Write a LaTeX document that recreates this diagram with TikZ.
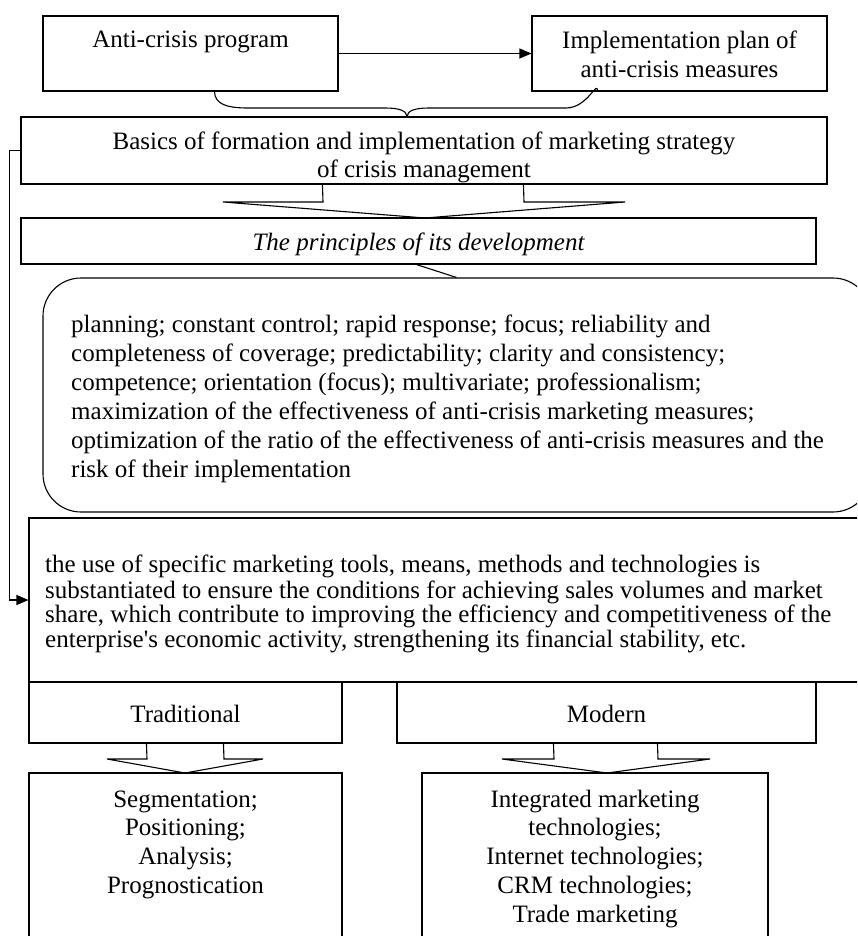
\documentclass[tikz,border=0pt]{standalone}
\usepackage{fontspec}
\setmainfont{Liberation Serif}
\usetikzlibrary{arrows.meta,calc}
\begin{document}
\begin{tikzpicture}[x=1pt,y=-1pt,
  box/.style={draw, line width=1.1pt, rectangle, inner sep=0pt},
  conn/.style={draw, line width=1.1pt},
  tip/.style={-{Triangle[length=12pt,width=10pt]}},
  lbl/.style={inner sep=0pt, font=\fontsize{25}{29}\selectfont}]
\useasboundingbox (0,0) rectangle (857,936);
\fill[white] (0,0) rectangle (857,936);
\clip (0,0) rectangle (857,936);

% boxes
\node[box, minimum width=295pt, minimum height=75pt] (A) at (190.5,53.5) {};
\node[box, minimum width=295pt, minimum height=75pt] (B) at (679.5,53.5) {};
\node[box, minimum width=806pt, minimum height=67pt] (C) at (424,150.5) {};
\node[box, minimum width=795pt, minimum height=46pt] (P) at (418.5,241) {};
\node[box, rounded corners=38pt, minimum width=828pt, minimum height=234pt] (R) at (457,395) {};
\node[box, minimum width=841pt, minimum height=164pt] (D) at (449.5,600) {};
\node[box, minimum width=313pt, minimum height=61pt] (T) at (185.5,712.5) {};
\node[box, minimum width=419pt, minimum height=61pt] (M) at (606.5,712.5) {};
\node[box, minimum width=313pt, minimum height=177pt] (S) at (185.5,861.5) {};
\node[box, minimum width=346pt, minimum height=177pt] (N) at (595,861.5) {};

% texts
\node[lbl, anchor=base] (tA) at (190.5,48) {Anti-crisis program};
\node[lbl, anchor=north, align=center] (tB) at (679.5,27.7)
  {\strut Implementation plan of\\anti-crisis measures};
\node[lbl, anchor=north, align=center, font=\fontsize{25}{28}\selectfont] (tC) at (424,129.7)
  {\strut Basics of formation and implementation of marketing strategy\\of crisis management};
\node[lbl, anchor=base, font=\fontsize{25}{29}\selectfont\itshape] (tP) at (418.5,250)
  {The principles of its development};
\node[lbl, anchor=north west, align=left] (tR) at (71,311.7)
  {\strut planning; constant control; rapid response; focus; reliability and\\
   completeness of coverage; predictability; clarity and consistency;\\
   competence; orientation (focus); multivariate; professionalism;\\
   maximization of the effectiveness of anti-crisis marketing measures;\\
   optimization of the ratio of the effectiveness of anti-crisis measures and the\\
   risk of their implementation};
\node[lbl, anchor=north west, align=left, font=\fontsize{25}{24.3}\selectfont] (tD) at (45,554.9)
  {\strut the use of specific marketing tools, means, methods and technologies is\\
   substantiated to ensure the conditions for achieving sales volumes and market\\
   share, which contribute to improving the efficiency and competitiveness of the\\
   enterprise\textquotesingle s economic activity, strengthening its financial stability, etc.};
\node[lbl, anchor=base] (tT) at (185.5,722) {Traditional};
\node[lbl, anchor=base] (tM) at (606.5,722) {Modern};
\node[lbl, anchor=north, align=center, font=\fontsize{25}{28.7}\selectfont] (tS) at (185.5,786.9)
  {\strut Segmentation;\\Positioning;\\Analysis;\\Prognostication};
\node[lbl, anchor=north, align=center, font=\fontsize{25}{28.7}\selectfont] (tN) at (595,786.9)
  {\strut Integrated marketing\\technologies;\\Internet technologies;\\CRM technologies;\\Trade marketing};

% connectors
\draw[conn, tip] (A.east) -- (B.west);
\draw[conn, tip] (C.west) -- ++(-11,0) |- (D.west);

% brace under A and B
\coordinate (brtip) at (407,117);
\draw[conn] ($(A.south west)+(172,0)$) .. controls (215,104) and (226,108) .. (248,108)
  -- (385,108) .. controls (400,108) and (407,111) .. (brtip);
\draw[conn] (brtip) .. controls (407,111) and (414,108) .. (429,108)
  -- (566,108) .. controls (588,108) and ($(B.south west)+(66,-13)$) .. ($(B.south west)+(66,0)$);

% hollow arrow C -> P
\draw[conn, line join=miter] ($(C.south west)+(302,0)$) -- (323,202) -- (223,202) -- (425,218)
  -- (625,202) -- (524,202) -- ($(C.south west)+(503,0)$);

% callout P -> R
\draw[conn] ($(P.south west)+(396,0)$) -- ($(R.north west)+(414,0)$);

% hollow arrow T -> S
\draw[conn] ($(T.south west)+(118,0)$) -- (147,759) -- (107,759) -- (185,773)
  -- (263,759) -- (224,759) -- ($(T.south west)+(195,0)$);

% hollow arrow M -> N
\draw[conn] ($(M.south west)+(157,0)$) -- (554,759) -- (502,759) -- (607,773)
  -- (710,759) -- (658,759) -- ($(M.south west)+(261,0)$);
\end{tikzpicture}
\end{document}
